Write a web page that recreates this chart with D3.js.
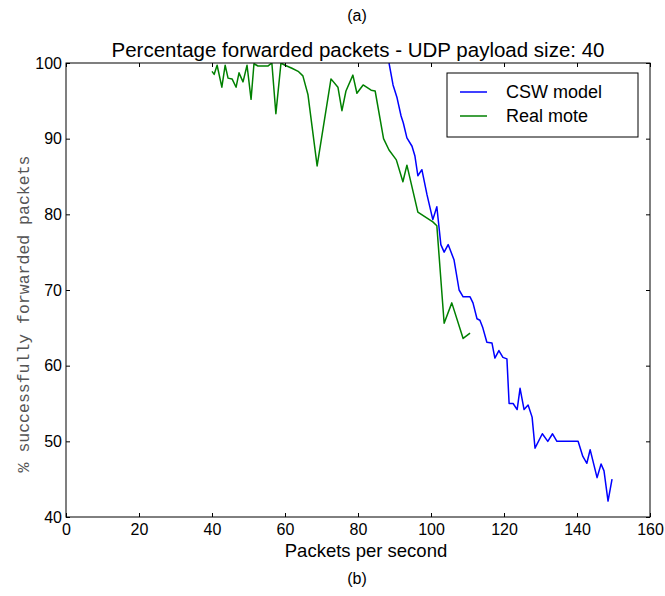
<!DOCTYPE html>
<html>
<head>
<meta charset="utf-8">
<script src="https://cdn.jsdelivr.net/npm/d3@7"></script>
<style>
  body { margin: 0; background: #fff; }
  svg text { font-family: "Liberation Sans", Arial, sans-serif; fill: #000; }
</style>
</head>
<body>
<svg id="chart" width="665" height="596"></svg>
<script>
// Series data (packets per second -> % forwarded)
const cswX = [88.5, 89.6, 90.7, 91.8, 92.4, 93.4, 94.8, 95.6, 96.4, 97.5, 98.9, 100.5, 101.6, 102.7, 103.6,
  104.7, 106.3, 107.7, 108.8, 110.7, 111.5, 112.6, 113.4, 114.2, 115.3, 116.7, 117.5, 118.6, 119.7, 120.8,
  121.4, 122.5, 123.6, 124.4, 125.5, 126.6, 127.7, 128.5, 130.5, 132, 133.3, 134.5, 140.3, 141.6, 142.7,
  143.6, 145.5, 146.6, 147.4, 148.5, 149.6];
const cswY = [100, 97.1, 95.4, 93, 92.1, 90.1, 89, 87.7, 85.1, 85.9, 82.6, 79.3, 81, 76, 75,
  76, 74, 70, 69.1, 69.1, 68.3, 66.2, 66, 65, 63.1, 63, 61, 62, 61.1, 60.9,
  55, 55, 54.2, 57, 54.2, 54.8, 53.2, 49.1, 51, 50, 51, 50, 50, 48, 47.1,
  48.9, 45.2, 47, 46.1, 42.1, 45];

const moteX = [40, 40.6, 41.4, 42.7, 43.6, 44.4, 45.5, 46.6, 47.4, 48.5, 49.6, 50.7, 51.5, 52.6, 55.3,
  56.4, 57.5, 58.9, 60, 61.9, 63.6, 64.9, 66.3, 68.8, 72.6, 74.5, 75.6, 76.7, 78.6, 79.7,
  81.4, 83.6, 84.7, 87, 88.5, 90.5, 92.3, 93.4, 96.4, 100.5, 101.6, 103.6, 105.7, 108.8, 110.7];
const moteY = [98.9, 98.5, 99.7, 96.8, 99.7, 98, 97.9, 96.8, 98.7, 97.5, 99.7, 95.2, 99.9, 99.6, 99.6,
  100, 93.3, 100, 99.7, 99.3, 98.9, 98.3, 95.8, 86.4, 97.9, 96.8, 93.7, 96.3, 98.4, 96,
  97.1, 96.4, 96.3, 90, 88.5, 87.2, 84.3, 86.5, 80.3, 79, 78.5, 65.6, 68.3, 63.6, 64.3];

const xTicks = [0, 20, 40, 60, 80, 100, 120, 140, 160];
const yTicks = [40, 50, 60, 70, 80, 90, 100];

const series = [
  { name: 'CSW model', color: '#0000ff', points: cswX.map((x, i) => [x, cswY[i]]) },
  { name: 'Real mote', color: '#008000', points: moteX.map((x, i) => [x, moteY[i]]) }
];

const margin = { top: 63, right: 15, bottom: 79, left: 66 };
const width = 665 - margin.left - margin.right;
const height = 596 - margin.top - margin.bottom;

const svg = d3.select('#chart');

const x = d3.scaleLinear().domain([0, 160]).range([0, width]);
const y = d3.scaleLinear().domain([40, 100]).range([height, 0]);

const g = svg.append('g').attr('transform', `translate(${margin.left},${margin.top})`);

// clip lines to plot area
g.append('clipPath').attr('id', 'clip')
  .append('rect').attr('width', width).attr('height', height);

const line = d3.line().x(d => x(d[0])).y(d => y(d[1]));

g.append('g').attr('clip-path', 'url(#clip)')
  .selectAll('path')
  .data(series)
  .enter()
  .append('path')
  .attr('d', d => line(d.points))
  .attr('fill', 'none')
  .attr('stroke', d => d.color)
  .attr('stroke-width', 1.5)
  .attr('stroke-linejoin', 'round');

// axes: inward ticks on all four sides
const tickLen = 4;
const styleAxis = sel => {
  sel.select('.domain').remove();
  sel.selectAll('.tick line').attr('stroke', '#000');
};

g.append('g')
  .attr('transform', `translate(0,${height})`)
  .call(d3.axisBottom(x).tickValues(xTicks).tickSizeInner(-tickLen).tickSizeOuter(0).tickPadding(7))
  .call(styleAxis)
  .selectAll('text').attr('font-size', 16).attr('font-family', '"Liberation Sans", Arial, sans-serif');

g.append('g')
  .call(d3.axisTop(x).tickValues(xTicks).tickSizeInner(-tickLen).tickSizeOuter(0).tickFormat(''))
  .call(styleAxis);

g.append('g')
  .call(d3.axisLeft(y).tickValues(yTicks).tickSizeInner(-tickLen).tickSizeOuter(0).tickPadding(4))
  .call(styleAxis)
  .selectAll('text').attr('font-size', 16).attr('font-family', '"Liberation Sans", Arial, sans-serif');

g.append('g')
  .attr('transform', `translate(${width},0)`)
  .call(d3.axisRight(y).tickValues(yTicks).tickSizeInner(-tickLen).tickSizeOuter(0).tickFormat(''))
  .call(styleAxis);

// frame
g.append('rect')
  .attr('width', width).attr('height', height)
  .attr('fill', 'none').attr('stroke', '#000').attr('stroke-width', 1);

// titles and labels
svg.append('text')
  .attr('x', 357).attr('y', 21)
  .attr('text-anchor', 'middle').attr('font-size', 16)
  .text('(a)');

svg.append('text')
  .attr('x', margin.left + width / 2).attr('y', 57)
  .attr('text-anchor', 'middle').attr('font-size', 20.5)
  .text('Percentage forwarded packets - UDP payload size: 40');

svg.append('text')
  .attr('x', 366).attr('y', 557)
  .attr('text-anchor', 'middle').attr('font-size', 18.5)
  .text('Packets per second');

svg.append('text')
  .attr('x', 357).attr('y', 584)
  .attr('text-anchor', 'middle').attr('font-size', 16)
  .text('(b)');

svg.append('text')
  .attr('transform', 'translate(29,314) rotate(-90)')
  .attr('text-anchor', 'middle').attr('font-size', 16.5)
  .style('font-family', '"Liberation Mono", "DejaVu Sans Mono", monospace')
  .style('fill', '#555')
  .text('% successfully forwarded packets');

// legend
const legend = svg.append('g').attr('transform', 'translate(447,73)');
legend.append('rect')
  .attr('width', 191).attr('height', 64)
  .attr('fill', '#fff').attr('stroke', '#000').attr('stroke-width', 1);

const items = legend.selectAll('.item')
  .data(series)
  .enter()
  .append('g')
  .attr('class', 'item')
  .attr('transform', (d, i) => `translate(0,${19 + i * 24})`);

items.append('line')
  .attr('x1', 13).attr('x2', 40)
  .attr('stroke', d => d.color).attr('stroke-width', 1.5);

items.append('text')
  .attr('x', 59).attr('dy', '0.35em')
  .attr('font-size', 18)
  .text(d => d.name);
</script>
</body>
</html>
